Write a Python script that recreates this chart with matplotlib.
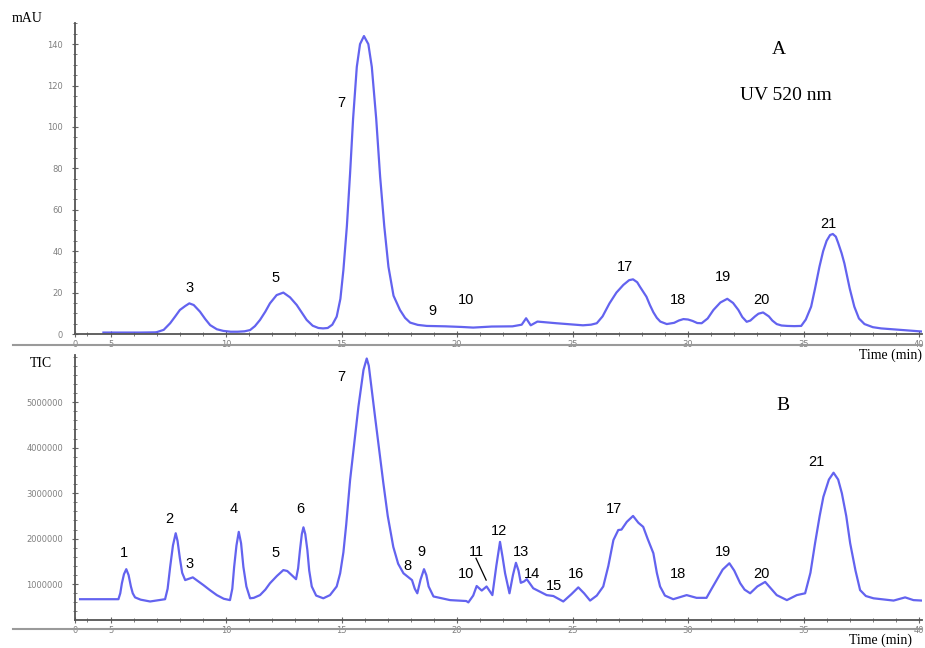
import matplotlib.pyplot as plt
from matplotlib.lines import Line2D
from matplotlib.ticker import MultipleLocator

# UV 520 nm trace (time in min, mAU)
uv_time = [4.69, 5.5, 6.3, 6.93, 7.0, 7.3, 7.58, 7.8, 8.0, 8.23, 8.41, 8.6, 8.87, 9.1,
           9.31, 9.6, 9.88, 10.2, 10.5, 10.8, 11.04, 11.25, 11.47, 11.7, 11.9, 12.19, 12.48,
           12.77, 13.06, 13.3, 13.49, 13.75, 14.0, 14.2, 14.4, 14.6, 14.79, 14.95, 15.08,
           15.23, 15.37, 15.5, 15.66, 15.8, 15.97, 16.16, 16.31, 16.5, 16.67, 16.85, 17.03,
           17.25, 17.53, 17.75, 17.97, 18.3, 18.69, 19.5, 20.2, 20.7, 21.5, 22.4, 22.8,
           22.99, 23.19, 23.48, 24.3, 25.45, 25.8, 26.05, 26.3, 26.6, 26.9, 27.2, 27.45,
           27.62, 27.8, 27.92, 28.2, 28.35, 28.5, 28.65, 28.8, 29.08, 29.4, 29.6, 29.8,
           30.0, 30.2, 30.4, 30.59, 30.85, 31.1, 31.4, 31.7, 31.95, 32.18, 32.35, 32.54,
           32.7, 32.9, 33.05, 33.25, 33.5, 33.65, 33.84, 34.05, 34.3, 34.6, 34.9, 35.1,
           35.33, 35.5, 35.69, 35.85, 36.0, 36.15, 36.27, 36.4, 36.5, 36.65, 36.77, 37.0,
           37.2, 37.4, 37.64, 38.0, 38.36, 39.3, 40.13]
uv_mau = [0.7, 0.7, 0.7, 0.8, 0.9, 2.0, 5.2, 8.5, 11.6, 13.5, 14.8, 14.0, 10.8, 7.2,
          4.3, 2.3, 1.5, 1.1, 1.1, 1.3, 1.9, 3.8, 6.8, 10.8, 14.8, 18.8, 20.0,
          17.7, 14.0, 10.0, 6.8, 4.0, 2.9, 2.7, 2.9, 4.5, 8.4, 17.0, 30.9,
          52.0, 77.7, 104.0, 129.0, 140.0, 143.9, 140.0, 129.0, 104.0, 76.0, 52.0, 32.5,
          18.5, 11.6, 7.8, 5.5, 4.4, 3.9, 3.7, 3.4, 3.1, 3.6, 3.7, 4.5,
          7.6, 4.2, 6.0, 5.2, 4.2, 4.5, 5.2, 8.5, 14.8, 20.0, 23.7, 26.0,
          26.4, 25.0, 22.8, 18.0, 14.0, 10.5, 7.8, 6.0, 4.8, 5.4, 6.5, 7.2,
          7.0, 6.3, 5.3, 5.2, 7.5, 11.6, 15.2, 17.0, 15.0, 11.6, 8.2, 5.9,
          6.5, 8.5, 9.8, 10.4, 8.5, 6.5, 4.8, 4.1, 3.9, 3.8, 3.9, 7.0,
          13.2, 22.0, 32.5, 40.0, 45.0, 47.8, 48.3, 47.0, 44.0, 39.0, 34.1, 22.0,
          13.2, 7.5, 4.8, 3.3, 2.7, 1.9, 1.2]

# TIC trace (time in min, counts in millions)
tic_time = [3.68, 5.34, 5.42, 5.49, 5.58, 5.68, 5.78, 5.88, 5.96, 6.06, 6.3, 6.71, 7.36, 7.47,
            7.58, 7.7, 7.82, 7.9, 8.0, 8.1, 8.23, 8.4, 8.56, 8.75, 9.02, 9.3, 9.6, 9.9,
            10.17, 10.27, 10.35, 10.45, 10.55, 10.65, 10.75, 10.88, 11.04, 11.2, 11.47, 11.7,
            11.9, 12.2, 12.48, 12.65, 12.84, 13.03, 13.12, 13.2, 13.28, 13.35, 13.43, 13.52,
            13.6, 13.71, 13.9, 14.21, 14.5, 14.79, 14.94, 15.08, 15.2, 15.37, 15.55, 15.73,
            15.95, 16.09, 16.18, 16.27, 16.45, 16.63, 16.81, 17.0, 17.24, 17.45, 17.68, 17.9,
            18.05, 18.17, 18.28, 18.42, 18.57, 18.67, 18.77, 18.98, 19.7, 20.4, 20.49, 20.7,
            20.85, 21.07, 21.28, 21.53, 21.7, 21.86, 21.97, 22.08, 22.27, 22.42, 22.55, 22.66,
            22.76, 22.9, 23.02, 23.3, 23.88, 24.17, 24.6, 24.95, 25.25, 25.5, 25.76, 26.05,
            26.33, 26.55, 26.77, 26.98, 27.12, 27.35, 27.62, 27.85, 28.06, 28.25, 28.5, 28.65,
            28.79, 29.0, 29.36, 29.94, 30.37, 30.8, 31.0, 31.24, 31.5, 31.79, 32.0, 32.26,
            32.45, 32.69, 33.0, 33.34, 33.6, 33.84, 34.28, 34.71, 35.07, 35.3, 35.5, 35.7,
            35.86, 36.1, 36.3, 36.5, 36.66, 36.85, 37.02, 37.25, 37.45, 37.7, 38.03, 38.9,
            39.4, 39.76, 40.13]
tic_mcounts = [0.67, 0.67, 0.8, 1.02, 1.22, 1.33, 1.2, 0.95, 0.8, 0.71, 0.66, 0.62, 0.67, 0.9,
               1.38, 1.85, 2.12, 1.95, 1.57, 1.25, 1.09, 1.12, 1.15, 1.08, 0.98, 0.87, 0.76, 0.68,
               0.65, 0.9, 1.38, 1.85, 2.15, 1.9, 1.38, 0.95, 0.69, 0.7, 0.76, 0.88,
               1.02, 1.18, 1.31, 1.29, 1.2, 1.11, 1.35, 1.75, 2.1, 2.25, 2.1, 1.75,
               1.3, 0.95, 0.75, 0.69, 0.76, 0.95, 1.24, 1.7, 2.3, 3.29, 4.1, 4.9,
               5.71, 5.96, 5.8, 5.42, 4.68, 3.95, 3.22, 2.5, 1.82, 1.45, 1.24, 1.15,
               1.09, 0.9, 0.8, 1.1, 1.33, 1.2, 0.95, 0.73, 0.65, 0.63, 0.6, 0.75,
               0.96, 0.86, 0.95, 0.76, 1.4, 1.93, 1.6, 1.24, 0.8, 1.2, 1.47, 1.3,
               1.03, 1.06, 1.11, 0.91, 0.76, 0.74, 0.62, 0.78, 0.93, 0.8, 0.64, 0.75,
               0.95, 1.4, 1.97, 2.19, 2.2, 2.37, 2.5, 2.35, 2.26, 2.0, 1.68, 1.25,
               0.95, 0.75, 0.67, 0.76, 0.7, 0.7, 0.88, 1.09, 1.32, 1.46, 1.3, 1.02,
               0.88, 0.8, 0.95, 1.05, 0.9, 0.76, 0.65, 0.76, 0.8, 1.25, 1.9, 2.5,
               2.92, 3.3, 3.45, 3.3, 3.0, 2.5, 1.9, 1.3, 0.87, 0.74, 0.69, 0.64,
               0.71, 0.65, 0.64]

# peak labels and their positions (time, height)
uv_labels = ['3', '5', '7', '9', '10', '17', '18', '19', '20', '21']
uv_label_t = [8.44, 12.12, 14.98, 18.92, 20.39, 27.27, 29.57, 31.52, 33.2, 36.06]
uv_label_y = [22.2, 27.0, 111.5, 11.1, 16.4, 32.4, 16.4, 27.5, 16.4, 53.1]

tic_labels = ['1', '2', '3', '4', '5', '6', '7', '8', '9', '10', '11', '12', '13', '14',
              '15', '16', '17', '18', '19', '20', '21']
tic_label_t = [5.58, 7.53, 8.44, 10.35, 12.12, 13.2, 14.98, 17.84, 18.45, 20.39, 20.82, 21.82,
               22.77, 23.24, 24.2, 25.16, 26.8, 29.57, 31.52, 33.2, 35.54]
tic_label_y = [1.69, 2.43, 1.44, 2.65, 1.69, 2.65, 5.55, 1.40, 1.71, 1.22, 1.71, 2.17,
               1.71, 1.22, 0.96, 1.22, 2.65, 1.22, 1.71, 1.22, 3.68]

x_start = 3.46
x_end = 40.13
x_ticks = [x_start, 5, 10, 15, 20, 25, 30, 35, 40]
x_tick_labels = ['0', '5', '10', '15', '20', '25', '30', '35', '40']
uv_ticks = [0, 20, 40, 60, 80, 100, 120, 140]
tic_ticks = [1, 2, 3, 4, 5]
tic_tick_labels = ['1000000', '2000000', '3000000', '4000000', '5000000']

trace_color = '#5252ee'
tick_gray = '#808080'
serif = 'Liberation Serif'
sans = 'Liberation Sans'

fig = plt.figure(figsize=(9.25, 6.48), dpi=100)
ax1 = fig.add_axes([75/925, 1-334/648, 847/925, 311/648])
ax2 = fig.add_axes([75/925, 1-620/648, 847/925, 265/648])


def style(ax):
    for s in ['top', 'right']:
        ax.spines[s].set_visible(False)
    for s in ['left', 'bottom']:
        ax.spines[s].set_color('#555555')
        ax.spines[s].set_linewidth(1.3)
    ax.set_xlim(x_start, x_end)
    ax.set_xticks(x_ticks)
    ax.set_xticklabels(x_tick_labels)
    ax.xaxis.set_minor_locator(MultipleLocator(1))
    ax.tick_params(axis='both', which='major', direction='inout', length=5, width=0.8,
                   color='#666666', labelsize=6, labelcolor=tick_gray, pad=1.5)
    ax.tick_params(axis='both', which='minor', direction='inout', length=3, width=0.6,
                   color='#666666')
    ax.tick_params(axis='y', pad=6)


# top panel: UV
ax1.plot(uv_time, uv_mau, color=trace_color, lw=1.6, alpha=0.9, solid_joinstyle='round')
style(ax1)
ax1.set_ylim(0, 150.2)
ax1.set_yticks(uv_ticks)
ax1.yaxis.set_minor_locator(MultipleLocator(5))
for lab, t, y in zip(uv_labels, uv_label_t, uv_label_y):
    ax1.text(t, y, lab, ha='center', va='center', fontsize=10.5, family=sans)

# bottom panel: TIC
ax2.plot(tic_time, tic_mcounts, color=trace_color, lw=1.6, alpha=0.9, solid_joinstyle='round')
style(ax2)
ax2.set_ylim(0.213, 6.037)
ax2.set_yticks(tic_ticks)
ax2.set_yticklabels(tic_tick_labels)
ax2.yaxis.set_minor_locator(MultipleLocator(0.2))
for lab, t, y in zip(tic_labels, tic_label_t, tic_label_y):
    ax2.text(t, y, lab, ha='center', va='center', fontsize=10.5, family=sans)
ax2.plot([20.82, 21.26], [1.57, 1.09], color='black', lw=0.9)

# gray separator lines
for yp in [345, 629]:
    fig.add_artist(Line2D([13/925, 922/925], [1-yp/648, 1-yp/648],
                          color='#9a9a9a', lw=1.5, transform=fig.transFigure))

# panel text
fig.text(12/925, 1-18/648, 'mAU', fontsize=10, family=serif, va='center', ha='left')
fig.text(30/925, 1-363/648, 'TIC', fontsize=10, family=serif, va='center', ha='left')
fig.text(922/925, 1-355/648, 'Time (min)', fontsize=10, family=serif, va='center', ha='right')
fig.text(912/925, 1-640/648, 'Time (min)', fontsize=10, family=serif, va='center', ha='right')
fig.text(779/925, 1-50/648, 'A', fontsize=14, family=serif, va='center', ha='center')
fig.text(786/925, 1-95/648, 'UV 520 nm', fontsize=14, family=serif, va='center', ha='center')
fig.text(783/925, 1-406/648, 'B', fontsize=14, family=serif, va='center', ha='center')

plt.savefig('out.png', dpi=100)
